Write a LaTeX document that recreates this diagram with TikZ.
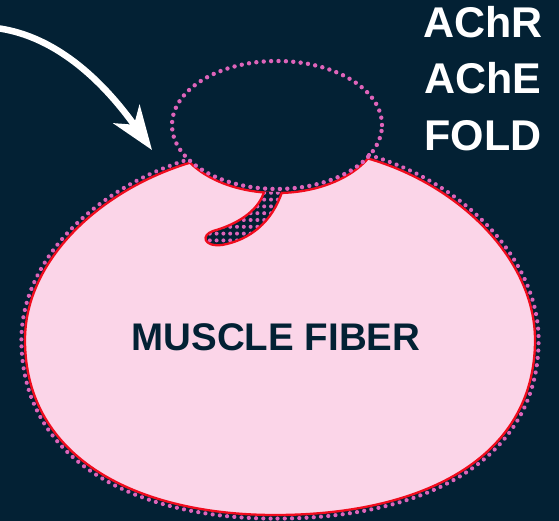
\documentclass[tikz,border=0pt]{standalone}
\usepackage{fontspec}
\setmainfont{Liberation Sans}
\usetikzlibrary{shapes.geometric, arrows.meta, decorations.markings}
\definecolor{bgnavy}{RGB}{3,33,52}
\definecolor{fiberpink}{RGB}{251,213,232}
\definecolor{membred}{RGB}{240,12,30}
\definecolor{dotpink}{RGB}{222,100,186}

\begin{document}
\begin{tikzpicture}[
    x=1pt, y=1pt,
    membrane/.style={draw=membred, line width=2.3pt, line join=round},
    dotrow/.style={draw=dotpink, line width=4.4pt, line cap=round, dash pattern=on 0pt off 7.4pt},
    outerdots/.style={decoration={markings, mark=between positions 0 and 1 step 7.2pt with {\fill[dotpink] (0,3.6pt) circle (2.1pt);}}, postaction={decorate}},
    sidetext/.style={text=white, font=\fontsize{43}{50}\selectfont\bfseries, anchor=base},
    release/.style={-{Stealth[length=44pt, width=32pt, inset=13pt]}, white, line width=6.5pt}
]
% Background
\useasboundingbox (0,0) rectangle (559,-521);
\fill[bgnavy] (0,0) rectangle (559,-521);

% Muscle fiber body
\path[fill=fiberpink, membrane] (190,-162.7) arc[start angle=213.2, end angle=331, x radius=104pt, y radius=67pt]
    .. controls (460,-185) and (535,-260) .. (535,-340)
    .. controls (535,-460) and (420,-515) .. (275,-515)
    .. controls (140,-515) and (25,-460) .. (25,-340)
    .. controls (25,-260) and (100,-190) .. cycle;
\path[outerdots] (368,-158.5)
    .. controls (460,-185) and (535,-260) .. (535,-340)
    .. controls (535,-460) and (420,-515) .. (275,-515)
    .. controls (140,-515) and (25,-460) .. (25,-340)
    .. controls (25,-260) and (100,-190) .. (190,-162.7);

% Junctional fold
\begin{scope}
    \clip (264,-192) .. controls (258,-212) and (235,-225) .. (213,-231)
        .. controls (201,-235) and (203,-247) .. (222,-245)
        .. controls (250,-240) and (272,-222) .. (282,-192) -- cycle;
    \fill[bgnavy] (195,-180) rectangle (290,-255);
    \foreach \i in {0,...,13}
        \foreach \j in {0,...,11}
            \fill[dotpink] (203+6.8*\i, -186-6.8*\j) circle (2pt);
\end{scope}
\draw[membrane] (264,-192) .. controls (258,-212) and (235,-225) .. (213,-231)
    .. controls (201,-235) and (203,-247) .. (222,-245)
    .. controls (250,-240) and (272,-222) .. (282,-192);

% Nerve terminal
\node[ellipse, minimum width=210pt, minimum height=128pt, inner sep=0pt, dotrow] (terminal) at (277,-125) {};

% Release arrow
\coordinate (source) at (-4,-28);
\coordinate (tip) at (152,-150);
\draw[release] (source) .. controls (60,-36) and (108,-88) .. (tip);

% Labels
\node[sidetext] (achr) at (483,-38) {AChR};
\node[sidetext] (ache) at (483,-94) {AChE};
\node[sidetext] (fold) at (483,-151) {FOLD};
\node[text=bgnavy, font=\fontsize{38.5}{44}\selectfont\bfseries, anchor=base] (fiber) at (276,-350) {MUSCLE FIBER};
\end{tikzpicture}
\end{document}
